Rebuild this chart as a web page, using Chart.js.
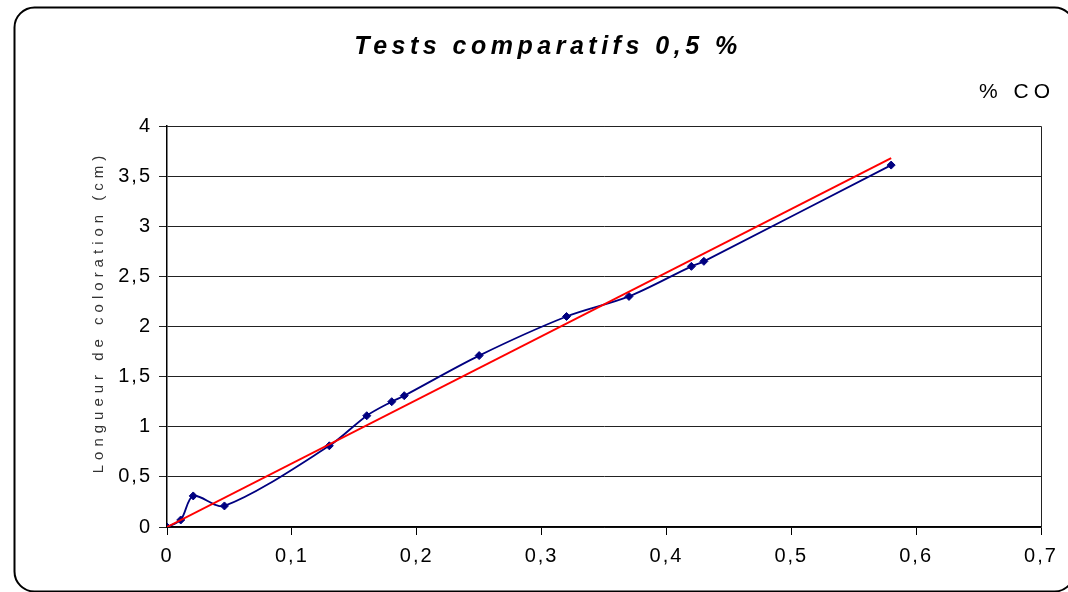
<!DOCTYPE html>
<html>
<head>
<meta charset="utf-8">
<title>Tests comparatifs 0,5 %</title>
<script src="https://cdn.jsdelivr.net/npm/chart.js@4/dist/chart.umd.min.js"></script>
<style>
  html, body { margin: 0; padding: 0; background: #fff; }
  #wrap { width: 1068px; height: 592px; position: relative; }
</style>
</head>
<body>
<div id="wrap"><canvas id="chartCO" width="1068" height="592"></canvas></div>
<script>
// valeurs
const titre = "Tests comparatifs 0,5 %";
const uniteX = "% CO";
const titreY = "Longueur de coloration (cm)";

const tauxCO = [0, 0.011, 0.021, 0.046, 0.13, 0.16, 0.18, 0.19, 0.25, 0.32, 0.37, 0.42, 0.43, 0.58];
const lectures = [0, 0.07, 0.31, 0.21, 0.81, 1.11, 1.25, 1.31, 1.71, 2.1, 2.3, 2.6, 2.65, 3.61];

const droiteX = [0, 0.58];
const droiteY = [0, 3.68];

const xMin = 0, xMax = 0.7, xStep = 0.1;
const yMin = 0, yMax = 4, yStep = 0.5;

function virgule(v) {
  let s = Number(v.toFixed(1)).toString();
  return s.replace(".", ",");
}

function points(xs, ys) {
  return xs.map((x, i) => ({ x: x, y: ys[i] }));
}

// cadre arrondi, bord du graphique, textes espacés
const decor = {
  id: "decor",
  beforeDraw(chart) {
    chart.ctx.letterSpacing = "2px";
  },
  beforeDatasetsDraw(chart) {
    let ctx = chart.ctx;
    let a = chart.chartArea;
    ctx.save();
    ctx.strokeStyle = "#222";
    ctx.lineWidth = 1;
    ctx.beginPath();
    ctx.moveTo(a.left, a.top + 0.5);
    ctx.lineTo(a.right + 0.5, a.top + 0.5);
    ctx.lineTo(a.right + 0.5, a.bottom);
    ctx.stroke();
    ctx.restore();
  },
  afterDraw(chart) {
    let ctx = chart.ctx;
    ctx.save();
    // cadre
    ctx.strokeStyle = "#000";
    ctx.lineWidth = 2;
    ctx.beginPath();
    ctx.roundRect(14.5, 7.5, 1060, 584, 20);
    ctx.stroke();

    // titre
    ctx.fillStyle = "#000";
    ctx.textBaseline = "alphabetic";
    ctx.textAlign = "center";
    ctx.font = "italic bold 25px 'Liberation Sans', Arial, sans-serif";
    ctx.letterSpacing = "4.5px";
    ctx.fillText(titre, 548, 54);

    // unité
    ctx.font = "21px 'Liberation Sans', Arial, sans-serif";
    ctx.letterSpacing = "5px";
    ctx.textAlign = "right";
    ctx.fillText(uniteX, 1055, 98);

    // titre axe Y
    ctx.translate(98, 312);
    ctx.rotate(-Math.PI / 2);
    ctx.font = "15px 'Liberation Sans', Arial, sans-serif";
    ctx.letterSpacing = "5px";
    ctx.textAlign = "center";
    ctx.fillStyle = "#333";
    ctx.fillText(titreY, 0, 5);
    ctx.restore();
    ctx.letterSpacing = "0px";
  },
};

var ctx = document.getElementById("chartCO");
var myChart = new Chart(ctx, {
  type: "scatter",
  data: {
    datasets: [
      {
        label: "droite",
        data: points(droiteX, droiteY),
        showLine: true,
        borderColor: "#ff0000",
        backgroundColor: "#ff0000",
        borderWidth: 2,
        pointRadius: 0,
        tension: 0,
        order: 0,
      },
      {
        label: "lectures",
        data: points(tauxCO, lectures),
        showLine: true,
        borderColor: "#000080",
        backgroundColor: "#000080",
        borderWidth: 1.8,
        pointStyle: "rectRot",
        pointRadius: 4,
        pointBorderWidth: 1,
        tension: 0.3,
        order: 1,
      },
    ],
  },
  options: {
    responsive: false,
    animation: false,
    devicePixelRatio: 1,
    layout: {
      padding: { top: 126, right: 27, left: 0, bottom: 0 },
    },
    plugins: {
      legend: { display: false },
      title: { display: false },
      tooltip: { enabled: false },
    },
    scales: {
      x: {
        type: "linear",
        min: xMin,
        max: xMax,
        afterFit: (s) => {
          s.height = 65;
        },
        ticks: {
          stepSize: xStep,
          color: "#000",
          padding: 9,
          maxRotation: 0,
          font: { family: "'Liberation Sans', Arial, sans-serif", size: 20 },
          callback: (v) => virgule(v),
        },
        grid: {
          drawOnChartArea: false,
          drawTicks: true,
          tickLength: 8,
          color: "#000",
        },
        border: { color: "#000", width: 1.5 },
      },
      y: {
        type: "linear",
        min: yMin,
        max: yMax,
        afterFit: (s) => {
          s.width = 167;
        },
        ticks: {
          stepSize: yStep,
          color: "#000",
          padding: 7,
          font: { family: "'Liberation Sans', Arial, sans-serif", size: 20 },
          callback: (v) => virgule(v),
        },
        grid: {
          color: "#222",
          lineWidth: 1,
          drawTicks: true,
          tickLength: 8,
        },
        border: { color: "#000", width: 1.5 },
      },
    },
  },
  plugins: [decor],
});
</script>
</body>
</html>
